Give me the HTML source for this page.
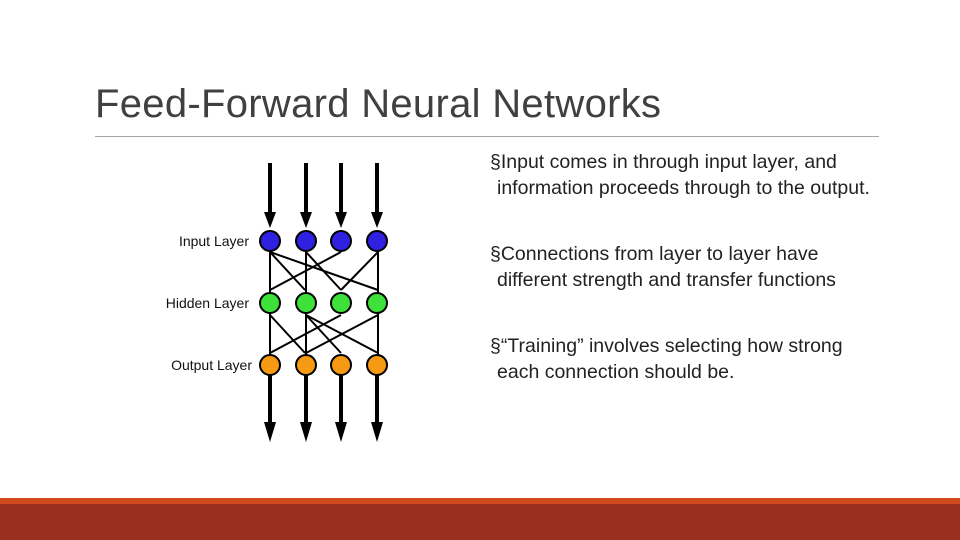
<!DOCTYPE html>
<html><head><style>
body{margin:0;width:960px;height:540px;background:#fff;position:relative;overflow:hidden;font-family:"Liberation Sans",sans-serif;}
.t{position:absolute;left:95px;top:82px;font-size:40px;color:#404040;letter-spacing:0.3px}
.hr{position:absolute;left:95px;top:136px;width:784px;height:1px;background:#a6a6a6}
.b{position:absolute;left:490px;width:390px;font-size:19.5px;color:#222;line-height:26px}
.b p{margin:0;padding-left:7px;text-indent:-7px}
.bar1{position:absolute;left:0;top:498px;width:960px;height:6px;background:#d04a1c}
.bar2{position:absolute;left:0;top:504px;width:960px;height:36px;background:#9a2e1f}
</style></head><body>
<div class="t">Feed-Forward Neural Networks</div>
<div class="hr"></div>
<div class="b" style="top:149px"><p>§Input comes in through input layer, and information proceeds through to the output.</p></div>
<div class="b" style="top:241px"><p>§Connections from layer to layer have different strength and transfer functions</p></div>
<div class="b" style="top:333px"><p>§“Training” involves selecting how strong each connection should be.</p></div>
<svg width="960" height="540" style="position:absolute;left:0;top:0">
<g font-family="Liberation Sans,sans-serif" font-size="14" fill="#111" text-anchor="end">
<text x="249" y="246">Input Layer</text>
<text x="249" y="308">Hidden Layer</text>
<text x="252" y="370">Output Layer</text>
</g>
<g stroke="#000" stroke-width="2">
<line x1="270" y1="250" x2="270" y2="295"/><line x1="270" y1="252" x2="305" y2="290"/><line x1="270" y1="252" x2="378" y2="290"/>
<line x1="306" y1="250" x2="306" y2="295"/><line x1="306" y1="252" x2="341" y2="290"/>
<line x1="341" y1="252" x2="270" y2="290"/>
<line x1="378" y1="250" x2="378" y2="295"/><line x1="378" y1="252" x2="341" y2="290"/>
<line x1="270" y1="312" x2="270" y2="358"/><line x1="270" y1="315" x2="305" y2="353"/>
<line x1="306" y1="312" x2="306" y2="358"/><line x1="306" y1="315" x2="341" y2="353"/><line x1="306" y1="315" x2="378" y2="353"/>
<line x1="341" y1="315" x2="270" y2="353"/>
<line x1="378" y1="312" x2="378" y2="358"/><line x1="378" y1="315" x2="306" y2="353"/>
</g>
<g stroke="#000" stroke-width="4">
<line x1="270" y1="163" x2="270" y2="215"/><line x1="306" y1="163" x2="306" y2="215"/><line x1="341" y1="163" x2="341" y2="215"/><line x1="377" y1="163" x2="377" y2="215"/>
<line x1="270" y1="375" x2="270" y2="425"/><line x1="306" y1="375" x2="306" y2="425"/><line x1="341" y1="375" x2="341" y2="425"/><line x1="377" y1="375" x2="377" y2="425"/>
</g>
<g fill="#000">
<polygon points="264,212 276,212 270,228"/><polygon points="300,212 312,212 306,228"/><polygon points="335,212 347,212 341,228"/><polygon points="371,212 383,212 377,228"/>
<polygon points="264,422 276,422 270,442"/><polygon points="300,422 312,422 306,442"/><polygon points="335,422 347,422 341,442"/><polygon points="371,422 383,422 377,442"/>
</g>
<g stroke="#000" stroke-width="2">
<circle cx="270" cy="241" r="10" fill="#3020e0"/><circle cx="306" cy="241" r="10" fill="#3020e0"/><circle cx="341" cy="241" r="10" fill="#3020e0"/><circle cx="377" cy="241" r="10" fill="#3020e0"/>
<circle cx="270" cy="303" r="10" fill="#3ee03a"/><circle cx="306" cy="303" r="10" fill="#3ee03a"/><circle cx="341" cy="303" r="10" fill="#3ee03a"/><circle cx="377" cy="303" r="10" fill="#3ee03a"/>
<circle cx="270" cy="365" r="10" fill="#f59a12"/><circle cx="306" cy="365" r="10" fill="#f59a12"/><circle cx="341" cy="365" r="10" fill="#f59a12"/><circle cx="377" cy="365" r="10" fill="#f59a12"/>
</g>
</svg>
<div class="bar1"></div><div class="bar2"></div>
</body></html>
